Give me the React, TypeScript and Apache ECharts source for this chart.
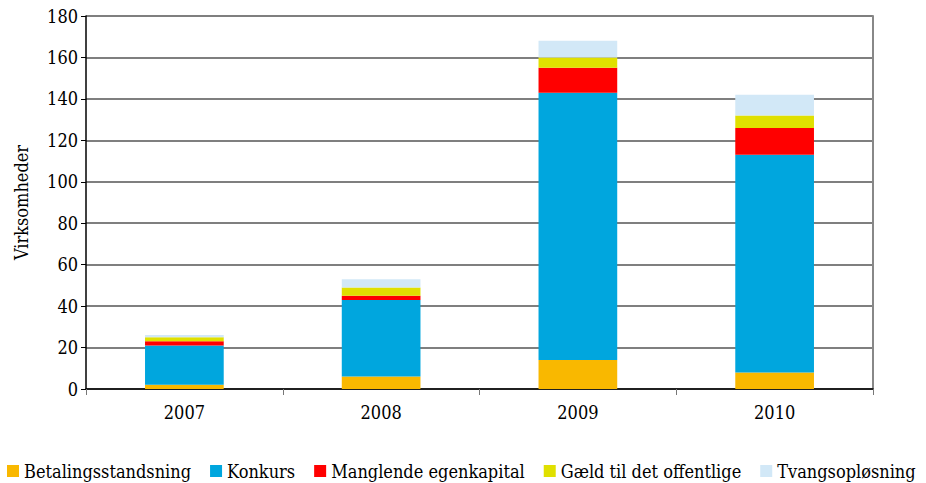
import React, { useEffect, useRef } from "react";
import * as echarts from "echarts";

const years = ["2007", "2008", "2009", "2010"];
const betalingsstandsning = [2, 6, 14, 8];
const konkurs = [19, 37, 129, 105];
const manglendeEgenkapital = [2, 2, 12, 13];
const gaeldOffentlige = [2, 4, 5, 6];
const tvangsoplosning = [1, 4, 8, 10];

const seriesNames = [
  "Betalingsstandsning",
  "Konkurs",
  "Manglende egenkapital",
  "Gæld til det offentlige",
  "Tvangsopløsning",
];
const seriesData = [betalingsstandsning, konkurs, manglendeEgenkapital, gaeldOffentlige, tvangsoplosning];
const colors = ["#F9B800", "#00A6DE", "#FF0000", "#E0E000", "#D2E8F7"];

const FONT = "'DejaVu Serif Condensed', 'DejaVu Serif', serif";

export default function App() {
  const ref = useRef<HTMLDivElement>(null);
  useEffect(() => {
    if (!ref.current) return;
    const chart = echarts.init(ref.current, undefined, { renderer: "svg" });
    chart.setOption({
      animation: false,
      textStyle: { fontFamily: FONT },
      grid: { left: 86, right: 53, top: 16, bottom: 94 },
      legend: {
        left: 7,
        top: 462,
        padding: 0,
        itemWidth: 12,
        itemHeight: 12,
        itemGap: 19,
        icon: "rect",
        textStyle: { fontFamily: FONT, fontSize: 18, color: "#000" },
        data: seriesNames,
      },
      xAxis: {
        type: "category",
        data: years,
        axisLine: { lineStyle: { color: "#000", width: 1.5 } },
        axisTick: { show: true, length: 6, lineStyle: { color: "#777" } },
        axisLabel: { fontFamily: FONT, fontSize: 18, color: "#000", margin: 14 },
      },
      yAxis: [
        {
          type: "value",
          min: 0,
          max: 180,
          interval: 20,
          name: "Virksomheder",
          nameLocation: "middle",
          nameGap: 56,
          nameTextStyle: { fontFamily: FONT, fontSize: 18, color: "#000" },
          axisLine: { show: true, lineStyle: { color: "#000", width: 1.5 } },
          axisTick: { show: true, length: 5, lineStyle: { color: "#000" } },
          axisLabel: { fontFamily: FONT, fontSize: 18, color: "#000", margin: 8 },
          splitLine: { show: true, lineStyle: { color: "#555", width: 1.5 } },
        },
        {
          type: "value",
          min: 0,
          max: 180,
          interval: 20,
          position: "right",
          axisLine: { show: true, lineStyle: { color: "#888", width: 2 } },
          axisTick: { show: false },
          axisLabel: { show: false },
          splitLine: { show: false },
        },
      ],
      series: seriesNames.map((name, i) => ({
        name,
        type: "bar",
        stack: "total",
        barWidth: "40%",
        data: seriesData[i],
        itemStyle: { color: colors[i] },
      })),
    });
    return () => chart.dispose();
  }, []);
  return <div ref={ref} style={{ width: 926, height: 483, position: "absolute", left: 0, top: 0, background: "#fff" }} />;
}
